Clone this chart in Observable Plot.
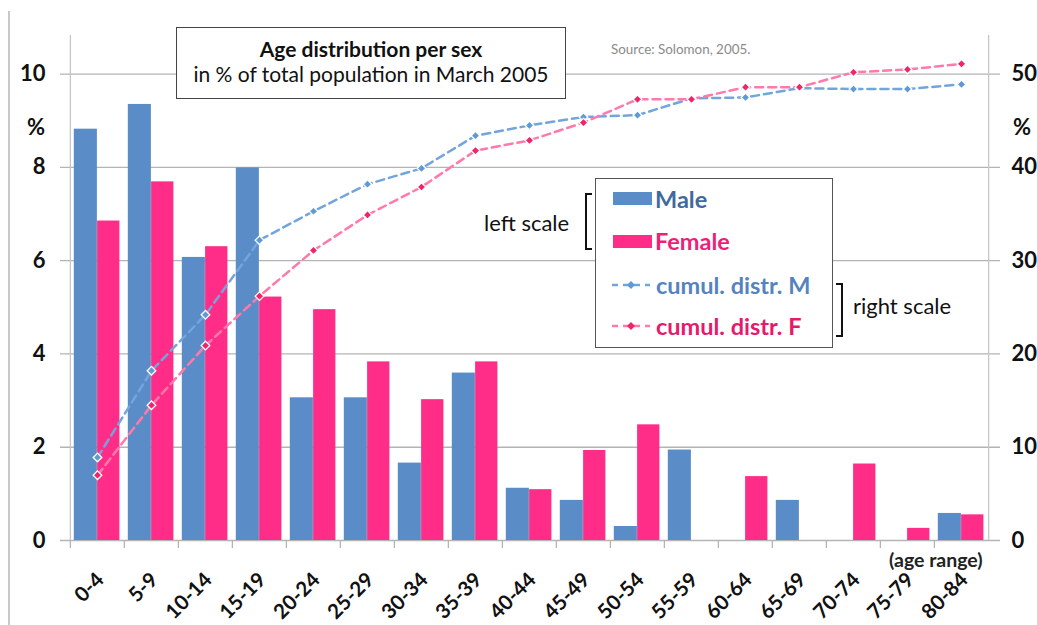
<!DOCTYPE html>
<html><head><meta charset="utf-8">
<script src="https://cdn.jsdelivr.net/npm/d3@7"></script>
<script src="https://cdn.jsdelivr.net/npm/@observablehq/plot@0.6"></script>
<style>
body{margin:0;background:#fff;font-family:Lato,"Open Sans",sans-serif;}
#wrap{position:relative;width:1037px;height:625px;overflow:hidden;background:#fff;}
#wrap svg{position:absolute;left:0;top:0;}
.abs{position:absolute;white-space:nowrap;line-height:1;}
</style></head><body><div id="wrap"></div>
<script>
// ---- data ----
const ageRanges = ["0-4","5-9","10-14","15-19","20-24","25-29","30-34","35-39","40-44","45-49","50-54","55-59","60-64","65-69","70-74","75-79","80-84"];
const male   = [8.82, 9.35, 6.07, 7.99, 3.06, 3.06, 1.66, 3.59, 1.12, 0.86, 0.30, 1.94, 0, 0.86, 0, 0, 0.58];
const female = [6.85, 7.69, 6.30, 5.22, 4.95, 3.83, 3.02, 3.83, 1.09, 1.93, 2.48, 0, 1.37, 0, 1.64, 0.26, 0.55];
const cumulMale   = [8.9, 18.2, 24.2, 32.2, 35.3, 38.2, 39.9, 43.4, 44.5, 45.4, 45.6, 47.4, 47.5, 48.5, 48.4, 48.4, 48.9];
const cumulFemale = [7.0, 14.5, 20.9, 26.2, 31.1, 34.9, 37.9, 41.8, 42.9, 44.8, 47.3, 47.3, 48.6, 48.6, 50.2, 50.5, 51.1];
const leftTicks = [0, 2, 4, 6, 8, 10];
const rightTickLabels = [0, 10, 20, 30, 40, 50];
const rightFactor = 5; // right scale = 5 x left scale

// ---- styles ----
const C = {
  maleBar: "#5a8cc8", femaleBar: "#ff2d87",
  lineM: "#72a5dd", lineF: "#ff7aaa",
  dotM: "#5f9ad6", dotF: "#f02466",
  grid: "#b4b4b4", axis: "#c6c6c6"
};
const W = 1037, H = 625, mL = 68, mR = 47, mT = 27, mB = 85;
const bw = (W - mL - mR) / ageRanges.length;

const rows = ageRanges.map((age, i) => ({age, male: male[i], female: female[i], cm: cumulMale[i], cf: cumulFemale[i]}));

const chart = Plot.plot({
  width: W, height: H,
  marginLeft: mL, marginRight: mR, marginTop: mT, marginBottom: mB,
  style: {fontFamily: "Lato, 'Open Sans', sans-serif", background: "transparent", overflow: "visible"},
  x: {type: "band", domain: ageRanges, padding: 0, axis: null},
  y: {domain: [0, 11], axis: null},
  marks: [
    Plot.ruleY(leftTicks, {stroke: C.grid, strokeWidth: 1.3, insetLeft: -8, insetRight: -10}),
    Plot.ruleX([ageRanges[0]], {y1: 0, y2: 11, dx: -bw / 2, stroke: C.axis, strokeWidth: 1.3, insetBottom: -8}),
    Plot.ruleX([ageRanges[ageRanges.length - 1]], {y1: 0, y2: 11, dx: bw / 2, stroke: C.axis, strokeWidth: 1.3, insetBottom: -8}),
    Plot.ruleX(ageRanges, {y1: 0, y2: 0, dx: -bw / 2, stroke: C.grid, strokeWidth: 1.3, insetBottom: -8}),
    Plot.barY(rows, {x: "age", y: "male", fill: C.maleBar, insetLeft: 3.8, insetRight: bw / 2}),
    Plot.barY(rows, {x: "age", y: "female", fill: C.femaleBar, insetLeft: bw / 2, insetRight: 4.6}),
    Plot.line(rows, {x: "age", y: d => d.cm / rightFactor, stroke: C.lineM, strokeWidth: 2.5, strokeDasharray: "8,5"}),
    Plot.line(rows, {x: "age", y: d => d.cf / rightFactor, stroke: C.lineF, strokeWidth: 2.5, strokeDasharray: "8,5"}),
    Plot.dot(rows, {x: "age", y: d => d.cm / rightFactor, symbol: "diamond2", r: 3.9, fill: C.dotM, stroke: "white", strokeWidth: 1.3}),
    Plot.dot(rows, {x: "age", y: d => d.cf / rightFactor, symbol: "diamond2", r: 3.9, fill: C.dotF, stroke: "white", strokeWidth: 1.3}),
    Plot.axisY({anchor: "left", ticks: leftTicks, tickSize: 0, tickPadding: 23, fontSize: 22, fontWeight: "bold", fill: "#111", label: null}),
    Plot.axisY({anchor: "right", ticks: leftTicks, tickFormat: (d, i) => rightTickLabels[i], tickSize: 0, tickPadding: 21, fontSize: 22, fontWeight: "bold", fill: "#111", label: null}),
    Plot.text(ageRanges, {x: d => d, y: 0, text: d => d, rotate: -45, textAnchor: "end", dx: 3, dy: 36, fontSize: 20.5, fontWeight: "bold", fill: "#111"})
  ]
});
const wrap = document.getElementById("wrap");
wrap.appendChild(chart);

function add(html, css) {
  const d = document.createElement("div");
  d.className = "abs";
  d.innerHTML = html;
  Object.assign(d.style, css);
  wrap.appendChild(d);
  return d;
}
// outer chart-area edge
add("", {left: "8px", top: "11px", width: "0", height: "614px", borderLeft: "2px solid #c8c8c8"});
// % signs
add("%", {left: "27px", top: "116px", fontSize: "22px", fontWeight: "bold", color: "#111"});
add("%", {left: "1013px", top: "116px", fontSize: "22px", fontWeight: "bold", color: "#111"});
// title box
add('<div style="font-weight:bold;font-size:21px;margin-top:10px">Age distribution per sex</div><div style="font-size:21px;margin-top:4px">in % of total population in March 2005</div>',
  {left: "176px", top: "27px", width: "388px", height: "70px", border: "1.5px solid #444", background: "#fff", textAlign: "center", color: "#111"});
// source
add("Source: Solomon, 2005.", {left: "611px", top: "43px", fontSize: "13.4px", color: "#8a8a8a"});
// legend box
add("", {left: "595px", top: "178px", width: "236px", height: "168px", border: "1.5px solid #555", background: "#fff"});
add("", {left: "613px", top: "192px", width: "39px", height: "13px", background: C.maleBar});
add("", {left: "613px", top: "235px", width: "39px", height: "13px", background: C.femaleBar});
add("Male", {left: "655px", top: "188px", fontSize: "23.5px", fontWeight: "bold", color: "#3f6aa0"});
add("Female", {left: "655px", top: "230px", fontSize: "23.5px", fontWeight: "bold", color: "#ee1f78"});
const icon = (line, dot) => `<svg width="40" height="12" style="vertical-align:middle"><line x1="1" x2="39" y1="6" y2="6" stroke="${line}" stroke-width="2.5" stroke-dasharray="6,5"/><path d="M20,2 L24,6 L20,10 L16,6Z" fill="${dot}"/></svg>`;
add(icon(C.lineM, C.dotM), {left: "611px", top: "279px"});
add(icon(C.lineF, C.dotF), {left: "611px", top: "320px"});
add("cumul. distr. M", {left: "656px", top: "274px", fontSize: "23.5px", fontWeight: "bold", color: "#5583bd"});
add("cumul. distr. F", {left: "656px", top: "315px", fontSize: "23.5px", fontWeight: "bold", color: "#e8186c"});
// scale brackets
add("left scale", {left: "484px", top: "212px", fontSize: "22px", color: "#111"});
add("", {left: "585px", top: "193px", width: "5px", height: "53px", borderLeft: "2px solid #111", borderTop: "2px solid #111", borderBottom: "2px solid #111"});
add("right scale", {left: "853px", top: "295px", fontSize: "22px", color: "#111"});
add("", {left: "836px", top: "283px", width: "5px", height: "50px", borderRight: "2px solid #111", borderTop: "2px solid #111", borderBottom: "2px solid #111"});
// axis note
add("(age range)", {left: "889px", top: "550px", fontSize: "19.5px", fontWeight: "bold", color: "#222"});
</script>
</body></html>
